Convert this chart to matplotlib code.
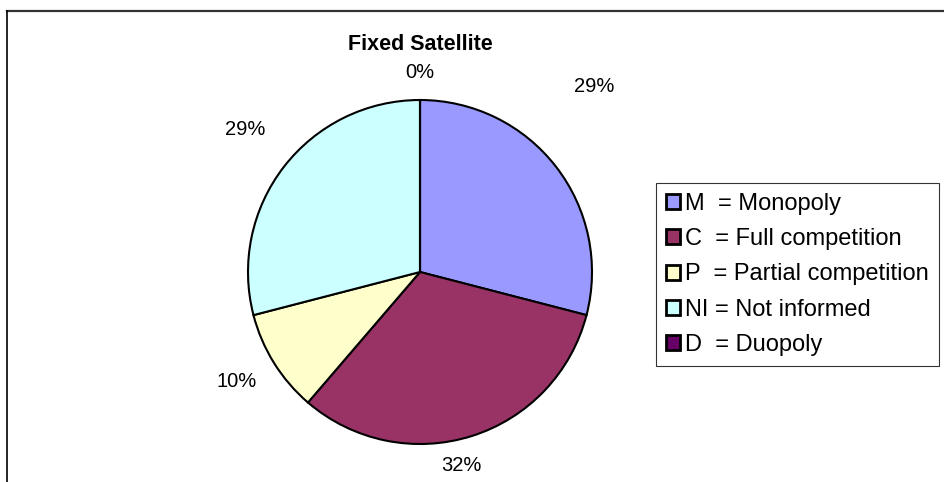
import numpy as np
import matplotlib
matplotlib.use('Agg')
import matplotlib.pyplot as plt
from matplotlib.lines import Line2D

plt.rcParams['font.family'] = ['Liberation Sans', 'DejaVu Sans']

# data (counts of countries, read as shares)
codes = ['M', 'C', 'P', 'NI', 'D']
names = ['Monopoly', 'Full competition', 'Partial competition', 'Not informed', 'Duopoly']
counts = [9, 10, 3, 9, 0]
pct_labels = ['29%', '32%', '10%', '29%', '0%']
colors = ['#9999FF', '#993366', '#FFFFCC', '#CCFFFF', '#660066']

W, H = 945, 482
cx, cy, r = 420, 272, 172  # pie centre and radius in pixels

fig = plt.figure(figsize=(W / 100, H / 100), dpi=100)
ax = fig.add_axes([0, 0, 1, 1])
ax.pie(counts, colors=colors, startangle=90, counterclock=False, radius=1,
       wedgeprops=dict(edgecolor='black', linewidth=1.5))
ax.set_xlim(-cx / r, (W - cx) / r)
ax.set_ylim(-(H - cy) / r, cy / r)
ax.set_aspect('auto')
ax.axis('off')

# percentage labels placed around the slices (Excel style spacing)
tot = float(sum(counts))
start = 90.0
ang_shift = [9.2, -5.2, -1.1, -1.5, 0.0]
dist = [1.48, 1.15, 1.24, 1.31, 1.16]
for i, c in enumerate(counts):
    mid = start - 360.0 * (c / tot) / 2
    start -= 360.0 * c / tot
    a = np.deg2rad(mid + ang_shift[i])
    ax.text(dist[i] * np.cos(a), dist[i] * np.sin(a), pct_labels[i],
            ha='center', va='center', fontsize=14.5)

fig.text(cx / W, 1 - 44 / H, 'Fixed Satellite', ha='center', va='center',
         fontsize=15.5, fontweight='bold')

# legend
handles = [plt.Rectangle((0, 0), 1, 1, facecolor=col, edgecolor='black', linewidth=2)
           for col in colors]
leg_labels = [(c + '  ' if len(c) == 1 else c + ' ') + '= ' + n for c, n in zip(codes, names)]
leg = fig.legend(handles, leg_labels, loc='upper left',
                 bbox_to_anchor=(656 / W, 1 - 183 / H), fontsize=17,
                 frameon=True, fancybox=False, edgecolor='black',
                 handlelength=0.6, handleheight=0.6, handletextpad=0.22,
                 labelspacing=0.56, borderpad=0.42, borderaxespad=0)
leg.get_frame().set_linewidth(0.8)

# chart area border (top and left visible)
fig.add_artist(Line2D([7 / W, 1], [1 - 10.5 / H, 1 - 10.5 / H], color='#333333', linewidth=1.6))
fig.add_artist(Line2D([7.5 / W, 7.5 / W], [0, 1 - 10.5 / H], color='black', linewidth=1.2))

fig.savefig('out.png', dpi=100)
